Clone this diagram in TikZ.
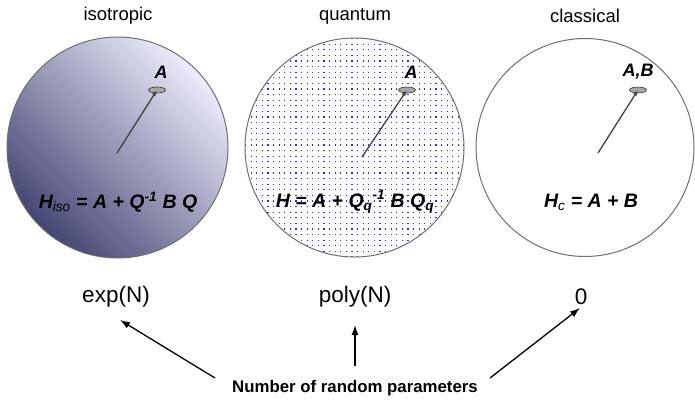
\documentclass[tikz,border=0pt]{standalone}
\usepackage{fontspec}
\setmainfont{Liberation Sans}
\usetikzlibrary{arrows.meta,shapes.geometric}
\definecolor{isodark}{RGB}{70,70,116}
\definecolor{isolight}{RGB}{236,236,252}
\definecolor{dotblue}{RGB}{40,40,255}
\definecolor{ringgray}{RGB}{110,110,110}
\begin{document}
\begin{tikzpicture}[x=1pt,y=-1pt,
  title/.style={font=\fontsize{18.5}{22}\selectfont, inner sep=0},
  big/.style={font=\fontsize{22.5}{26}\selectfont, inner sep=0},
  formula/.style={font=\fontsize{19.5}{23}\selectfont\bfseries\itshape, inner sep=0},
  lab/.style={font=\fontsize{18}{21}\selectfont\bfseries\itshape, inner sep=0},
  note/.style={font=\fontsize{16.8}{19}\selectfont\bfseries, inner sep=0},
  ring/.style={draw=ringgray, line width=1pt},
  pin/.style={draw=black!75, line width=1.3pt, -{Latex[length=6pt,width=4pt]}},
  disc/.style={ellipse, draw=black!80, fill=black!35, minimum width=17pt, minimum height=6pt, inner sep=0, line width=0.6pt},
  ptr/.style={draw=black, line width=1.3pt, -{Latex[length=10pt,width=7pt]}}
]
\useasboundingbox (0,0) rectangle (695,400);

% left circle (isotropic)
\shade[shading=axis, top color=isolight, bottom color=isodark, shading angle=-45]
  (117.5,147.5) circle (110.5pt);
\draw[ring] (117.5,147.5) circle (110.5pt);

% middle circle (quantum), dotted
\begin{scope}
  \clip (354.5,147.5) circle (109.5pt);
  \foreach \i in {0,...,40}{
    \foreach \j in {0,...,40}{
      \fill[dotblue] (245+\i*5.6, 38+\j*5.6) rectangle ++(1.25,1.25);
    }
  }
\end{scope}
\draw[ring] (354.5,147.5) circle (109.5pt);

% right circle (classical)
\draw[ring] (585,147.5) circle (109pt);

% titles
\node[title] (t1) at (118,16) {isotropic};
\node[title] (t2) at (355,16) {quantum};
\node[title] (t3) at (585,16) {classical};

% inner pointers
\node[disc] (e1) at (157,90) {};
\coordinate (c1) at (117,153);
\draw[pin] (c1) -- (e1.center);
\node[lab] (l1) at (161,72) {A};

\node[disc] (e2) at (407,90) {};
\coordinate (c2) at (362,157);
\draw[pin] (c2) -- (e2.center);
\node[lab] (l2) at (411,72) {A};

\node[disc] (e3) at (638,90) {};
\coordinate (c3) at (598,153);
\draw[pin] (c3) -- (e3.center);
\node[lab] (l3) at (638,72) {A,B};

% formulas
\node[formula] (f1) at (118,202) {H\textsubscript{\mdseries iso} = A + Q\textsuperscript{-1} B Q};
\node[formula] (f2) at (355,202) {H = A + Q\textsubscript{q}\textsuperscript{-1} B Q\textsubscript{q}};
\node[formula] (f3) at (591,202) {H\textsubscript{\mdseries c} = A + B};

% bottom labels
\node[big] (b1) at (116,297) {exp(N)};
\node[big] (b2) at (355,297) {poly(N)};
\node[big] (b3) at (581,297) {0};
\node[note] (n) at (355,388) {Number of random parameters};

\coordinate (s1) at (215,378);
\coordinate (s2) at (355,366);
\coordinate (s3) at (490,378);
\coordinate (p1) at (120,320);
\coordinate (p2) at (355,325);
\coordinate (p3) at (580,308);
\draw[ptr] (s1) -- (p1);
\draw[ptr] (s2) -- (p2);
\draw[ptr] (s3) -- (p3);
\end{tikzpicture}
\end{document}
